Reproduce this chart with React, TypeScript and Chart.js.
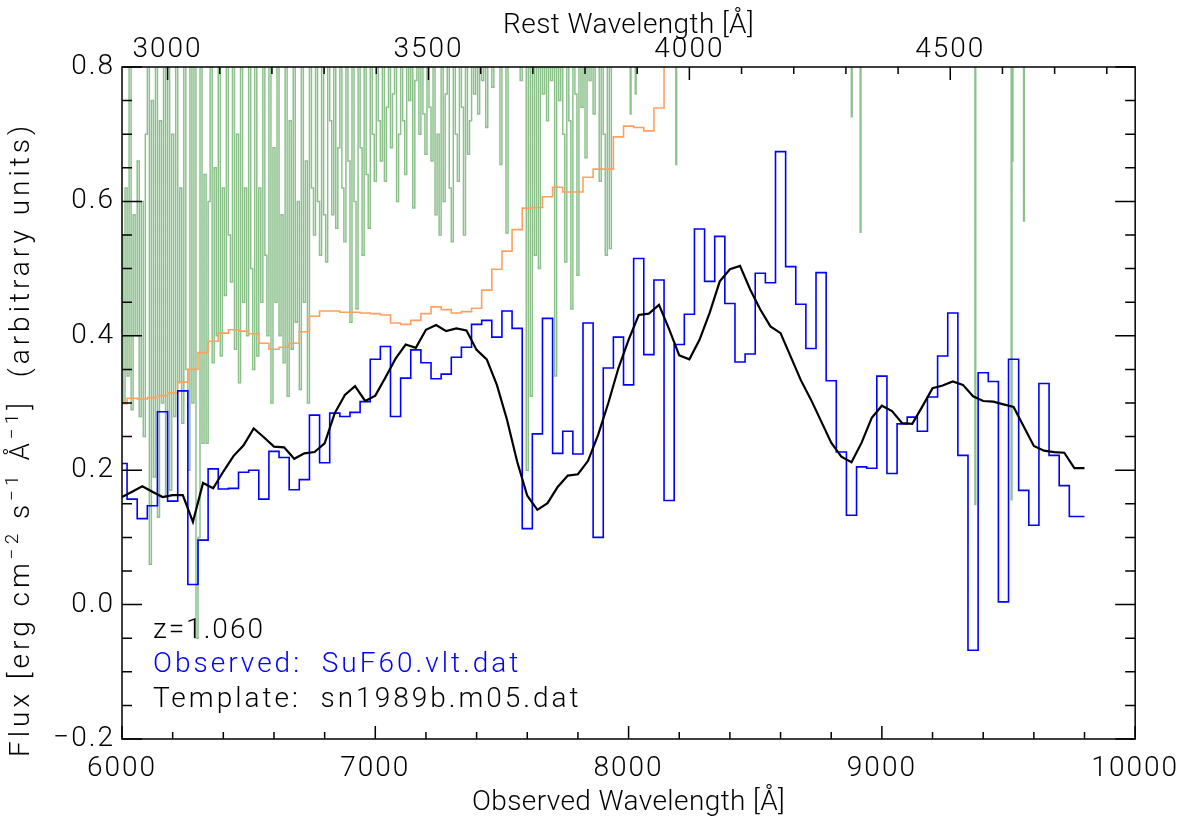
import React, { useEffect, useRef } from "react";
import { Chart, registerables } from "chart.js";

Chart.register(...registerables);

// ---------------- data ----------------
const REDSHIFT = 1.06;
const BIN_START = 6000; // Å, first sample of the binned spectra
const BIN_STEP = 40; // Å

// Observed spectrum (blue histogram), SuF60.vlt.dat
const observedFlux = [
  0.210, 0.157, 0.128, 0.147, 0.287, 0.154, 0.318, 0.030, 0.096, 0.202,
  0.172, 0.173, 0.197, 0.200, 0.157, 0.228, 0.219, 0.171, 0.186, 0.282,
  0.211, 0.285, 0.280, 0.286, 0.302, 0.365, 0.384, 0.280, 0.337, 0.379,
  0.360, 0.336, 0.343, 0.368, 0.383, 0.417, 0.423, 0.398, 0.437, 0.411,
  0.113, 0.254, 0.426, 0.225, 0.258, 0.224, 0.419, 0.100, 0.352, 0.398,
  0.327, 0.515, 0.372, 0.483, 0.155, 0.387, 0.432, 0.559, 0.481, 0.548,
  0.448, 0.361, 0.373, 0.493, 0.479, 0.674, 0.503, 0.447, 0.381, 0.494,
  0.333, 0.227, 0.133, 0.205, 0.203, 0.340, 0.195, 0.269, 0.279, 0.258,
  0.309, 0.370, 0.434, 0.222, -0.068, 0.345, 0.332, 0.004, 0.365, 0.170,
  0.118, 0.329, 0.222, 0.177, 0.131, 0.131,
];

// Template sn1989b.m05.dat (black)
const templateFlux = [
  0.160, 0.168, 0.176, 0.168, 0.160, 0.163, 0.163, 0.123, 0.181, 0.173,
  0.198, 0.221, 0.237, 0.262, 0.249, 0.235, 0.234, 0.217, 0.225, 0.227,
  0.240, 0.285, 0.312, 0.325, 0.303, 0.311, 0.338, 0.366, 0.387, 0.382,
  0.409, 0.416, 0.407, 0.411, 0.408, 0.379, 0.365, 0.327, 0.275, 0.213,
  0.162, 0.141, 0.151, 0.175, 0.192, 0.194, 0.214, 0.253, 0.300, 0.352,
  0.394, 0.431, 0.433, 0.446, 0.410, 0.371, 0.365, 0.394, 0.434, 0.481,
  0.499, 0.504, 0.469, 0.439, 0.414, 0.404, 0.369, 0.334, 0.305, 0.273,
  0.241, 0.220, 0.212, 0.241, 0.278, 0.296, 0.288, 0.270, 0.269, 0.295,
  0.322, 0.326, 0.332, 0.327, 0.310, 0.303, 0.302, 0.298, 0.294, 0.265,
  0.236, 0.229, 0.227, 0.226, 0.203, 0.203,
];

// Orange binned curve (leaves the plot at the top near 8150 Å)
const orangeFlux = [
  0.299, 0.307, 0.306, 0.308, 0.311, 0.315, 0.331, 0.350, 0.375, 0.392,
  0.404, 0.409, 0.407, 0.403, 0.389, 0.380, 0.383, 0.389, 0.406, 0.429,
  0.437, 0.437, 0.435, 0.435, 0.434, 0.433, 0.431, 0.419, 0.417, 0.423,
  0.433, 0.443, 0.439, 0.434, 0.436, 0.441, 0.468, 0.499, 0.526, 0.558,
  0.590, 0.591, 0.607, 0.621, 0.614, 0.614, 0.636, 0.648, 0.648, 0.696,
  0.712, 0.710, 0.705, 0.739, 0.860, 0.900,
];

// Green high-resolution noisy spectrum (dense part, 8 Å sampling)
const GREEN_START = 6000;
const GREEN_STEP = 8;
const greenFlux = [
  0.55, 0.30, 0.62, 0.34, 0.95, 0.29, 0.58, 0.40, 0.66, 0.28, 0.60, 0.25, 0.70,
  0.90, 0.06, 0.75, 0.19, 0.95, 0.13, 0.72, 0.30, 0.95, 0.16, 0.80, 0.17, 0.70,
  0.28, 0.95, 0.33, 0.62, 0.27, 0.95, 0.35, 0.20, 0.80, 0.30, 0.95, -0.05,
  0.10, 0.90, 0.24, 0.64, 0.24, 0.60, 0.95, 0.36, 0.65, 0.40, 0.95, 0.37, 0.62,
  0.46, 0.95, 0.55, 0.48, 0.95, 0.38, 0.70, 0.33, 0.95, 0.45, 0.62, 0.40,
  0.95, 0.50, 0.35, 0.95, 0.37, 0.62, 0.45, 0.95, 0.52, 0.40, 0.95, 0.30, 0.68,
  0.45, 0.95, 0.40, 0.58, 0.36, 0.95, 0.31, 0.72, 0.38, 0.95, 0.42, 0.60,
  0.32, 0.95, 0.45, 0.66, 0.30, 0.95, 0.62, 0.55, 0.95, 0.60, 0.52, 0.95, 0.58,
  0.51, 0.95, 0.72, 0.58, 0.95, 0.56, 0.68, 0.95, 0.62, 0.54, 0.95, 0.66,
  0.42, 0.95, 0.60, 0.44, 0.95, 0.68, 0.52, 0.95, 0.64, 0.56, 0.95, 0.70, 0.63,
  0.95, 0.72, 0.66, 0.95, 0.63, 0.74, 0.95, 0.68, 0.76, 0.95, 0.60, 0.70,
  0.95, 0.72, 0.64, 0.95, 0.75, 0.95, 0.59, 0.78, 0.95, 0.70, 0.95, 0.73, 0.67,
  0.95, 0.74, 0.66, 0.95, 0.58, 0.70, 0.55, 0.95, 0.60, 0.76, 0.95, 0.62,
  0.54, 0.95, 0.70, 0.63, 0.95, 0.74, 0.55, 0.95, 0.67, 0.72, 0.95, 0.76, 0.95,
  0.73, 0.95, 0.78, 0.95, 0.71, 0.95, 0.95, 0.77, 0.95, 0.95, 0.95, 0.655,
  0.95, 0.95, 0.553, 0.95, 0.95, 0.95, 0.95, 0.95, 0.95, 0.78, 0.95, 0.95, 0.20,
  0.95, 0.31, 0.95, 0.52, 0.95, 0.50, 0.95, 0.76, 0.95, 0.72, 0.95, 0.78,
  0.95, 0.34, 0.95, 0.75, 0.95, 0.70, 0.51, 0.95, 0.72, 0.44, 0.95, 0.76, 0.49,
  0.95, 0.74, 0.95, 0.665, 0.95, 0.78, 0.95, 0.73, 0.95, 0.95, 0.63, 0.95,
  0.70, 0.52, 0.95, 0.53, 0.95, 0.95, 0.95, 0.95,
];
// Isolated green dips in the red part (wavelength, lowest flux)
const greenSpikeWave = [8008, 8028, 8188, 8881, 8916, 9369, 9512, 9516, 9561];
const greenSpikeFlux = [0.73, 0.76, 0.655, 0.726, 0.554, 0.149, 0.156, 0.66, 0.571];
const GREEN_OFFSCALE = 0.95; // level above the plotted range
const GREEN_END = 9800;

const xMajorTicks = [6000, 7000, 8000, 9000, 10000];
const yMajorTicks = [-0.2, 0.0, 0.2, 0.4, 0.6, 0.8];
const restMajorTicks = [3000, 3500, 4000, 4500];

const X_MIN = 6000;
const X_MAX = 10000;
const Y_MIN = -0.2;
const Y_MAX = 0.8;

const FONT_FAMILY = 'Roboto, "Liberation Sans", "DejaVu Sans", sans-serif';
const FONT_WEIGHT = "300";
const FONT_SIZE = 28;

// -------------- helpers ----------------
const binned = (vals: number[]) =>
  vals.map((v, i) => ({ x: BIN_START + BIN_STEP * i, y: v }));

function greenPoints() {
  const pts = greenFlux.map((v, i) => ({ x: GREEN_START + GREEN_STEP * i, y: v }));
  greenSpikeWave.forEach((w, k) => {
    pts.push({ x: w - 3, y: GREEN_OFFSCALE });
    pts.push({ x: w, y: greenSpikeFlux[k] });
    pts.push({ x: w + 3, y: GREEN_OFFSCALE });
  });
  pts.push({ x: GREEN_END, y: GREEN_OFFSCALE });
  return pts;
}

const fmtY = (v: number) => {
  const s = Math.abs(v).toFixed(1);
  return v < -1e-9 ? "\u2212" + s : s;
};

const font = (size: number) => `${FONT_WEIGHT} ${size}px ${FONT_FAMILY}`;

const framePlugin = {
  id: "idlFrame",
  beforeDraw(chart: any) {
    // wider spacing for the axis tick labels drawn by Chart.js
    chart.ctx.letterSpacing = "2px";
  },
  afterDraw(chart: any) {
    const { ctx, chartArea } = chart;
    const { left, right, top, bottom } = chartArea;
    const x = chart.scales.x;
    const y = chart.scales.y;
    ctx.save();
    ctx.letterSpacing = "0px";
    ctx.strokeStyle = "#000";
    ctx.lineWidth = 1.5;
    ctx.strokeRect(left, top, right - left, bottom - top);
    ctx.beginPath();
    // bottom ticks (observed wavelength), minor every 200 Å
    for (let k = 0; k <= 20; k++) {
      const v = X_MIN + k * 200;
      const px = x.getPixelForValue(v);
      const len = k % 5 === 0 ? 13 : 7;
      ctx.moveTo(px, bottom);
      ctx.lineTo(px, bottom - len);
    }
    // top ticks (rest wavelength), minor every 100 Å
    for (let r = 2900; r <= 4900; r += 100) {
      const obs = r * (1 + REDSHIFT);
      if (obs < X_MIN || obs > X_MAX) continue;
      const px = x.getPixelForValue(obs);
      const len = r % 500 === 0 ? 13 : 7;
      ctx.moveTo(px, top);
      ctx.lineTo(px, top + len);
    }
    // left / right ticks, minor every 0.05
    for (let k = 0; k <= 20; k++) {
      const v = Y_MIN + k * 0.05;
      const py = y.getPixelForValue(v);
      const len = k % 4 === 0 ? 20 : 10;
      ctx.moveTo(left, py);
      ctx.lineTo(left + len, py);
      ctx.moveTo(right, py);
      ctx.lineTo(right - len, py);
    }
    ctx.stroke();

    const midX = (left + right) / 2;
    ctx.fillStyle = "#000";
    ctx.textAlign = "center";
    ctx.textBaseline = "alphabetic";
    ctx.font = font(FONT_SIZE);
    ctx.letterSpacing = "0.4px";
    ctx.fillText("Rest Wavelength [\u00c5]", midX, 33);
    ctx.fillText("Observed Wavelength [\u00c5]", midX, 810);

    // annotations
    ctx.textAlign = "left";
    ctx.letterSpacing = "2px";
    ctx.fillStyle = "#000";
    ctx.fillText("z=1.060", 153, 638);
    ctx.letterSpacing = "3px";
    ctx.fillStyle = "#0000ff";
    ctx.fillText("Observed:  SuF60.vlt.dat", 153, 672);
    ctx.fillStyle = "#000";
    ctx.fillText("Template:  sn1989b.m05.dat", 153, 707);

    // left axis title with superscripts
    ctx.translate(22, 757);
    ctx.rotate(-Math.PI / 2);
    ctx.textBaseline = "middle";
    ctx.letterSpacing = "4px";
    const parts: [string, boolean][] = [
      ["Flux [erg cm", false],
      ["\u22122", true],
      [" s", false],
      ["\u22121", true],
      [" \u00c5", false],
      ["\u22121", true],
      ["]  (arbitrary units)", false],
    ];
    let cx = 0;
    for (const [t, sup] of parts) {
      ctx.font = sup ? font(19) : font(FONT_SIZE);
      ctx.fillText(t, cx, sup ? -9 : 0);
      cx += ctx.measureText(t).width;
    }
    ctx.restore();
  },
};

export default function App() {
  const canvasRef = useRef<HTMLCanvasElement | null>(null);

  useEffect(() => {
    if (!canvasRef.current) return;
    const tickFont = { family: FONT_FAMILY, size: FONT_SIZE, weight: FONT_WEIGHT as any };
    const chart = new Chart(canvasRef.current, {
      type: "line",
      data: {
        datasets: [
          {
            label: "sky",
            data: greenPoints(),
            borderColor: "rgba(120,182,120,0.85)",
            borderWidth: 1.5,
            pointRadius: 0,
            stepped: "middle",
            order: 4,
          },
          {
            label: "orange",
            data: binned(orangeFlux),
            borderColor: "#ffa060",
            borderWidth: 1.6,
            pointRadius: 0,
            stepped: "middle",
            order: 3,
          },
          {
            label: "observed",
            data: binned(observedFlux),
            borderColor: "#0000ff",
            borderWidth: 1.6,
            pointRadius: 0,
            stepped: "middle",
            order: 2,
          },
          {
            label: "template",
            data: binned(templateFlux),
            borderColor: "#000000",
            borderWidth: 2.2,
            pointRadius: 0,
            tension: 0,
            order: 1,
          },
        ],
      },
      options: {
        responsive: false,
        animation: false,
        devicePixelRatio: 1,
        layout: { padding: { left: 0, right: 51, top: 0, bottom: 0 } },
        plugins: { legend: { display: false }, tooltip: { enabled: false } },
        scales: {
          x: {
            type: "linear",
            position: "bottom",
            min: X_MIN,
            max: X_MAX,
            afterBuildTicks: (s: any) => {
              s.ticks = xMajorTicks.map((v) => ({ value: v }));
            },
            afterFit: (s: any) => {
              s.height = 80;
            },
            grid: { display: false, drawTicks: false },
            border: { display: false },
            ticks: {
              autoSkip: false,
              maxRotation: 0,
              padding: 13,
              color: "#000",
              font: tickFont,
              callback: (v: any) => String(v),
            },
          },
          xTop: {
            type: "linear",
            position: "top",
            min: X_MIN / (1 + REDSHIFT),
            max: X_MAX / (1 + REDSHIFT),
            afterBuildTicks: (s: any) => {
              s.ticks = restMajorTicks.map((v) => ({ value: v }));
            },
            afterFit: (s: any) => {
              s.height = 67;
            },
            grid: { display: false, drawTicks: false },
            border: { display: false },
            ticks: {
              autoSkip: false,
              maxRotation: 0,
              padding: 0,
              color: "#000",
              font: tickFont,
              callback: (v: any) => String(v),
            },
          },
          y: {
            type: "linear",
            position: "left",
            min: Y_MIN,
            max: Y_MAX,
            afterBuildTicks: (s: any) => {
              s.ticks = yMajorTicks.map((v) => ({ value: v }));
            },
            afterFit: (s: any) => {
              s.width = 122;
            },
            grid: { display: false, drawTicks: false },
            border: { display: false },
            ticks: {
              autoSkip: false,
              padding: 7,
              color: "#000",
              font: tickFont,
              callback: (v: any) => fmtY(Number(v)),
            },
          },
        },
      },
      plugins: [framePlugin],
    });
    return () => chart.destroy();
  }, []);

  return (
    <div style={{ position: "fixed", left: 0, top: 0, width: 1187, height: 819, background: "#fff" }}>
      <canvas ref={canvasRef} width={1187} height={819} style={{ display: "block" }} />
    </div>
  );
}
